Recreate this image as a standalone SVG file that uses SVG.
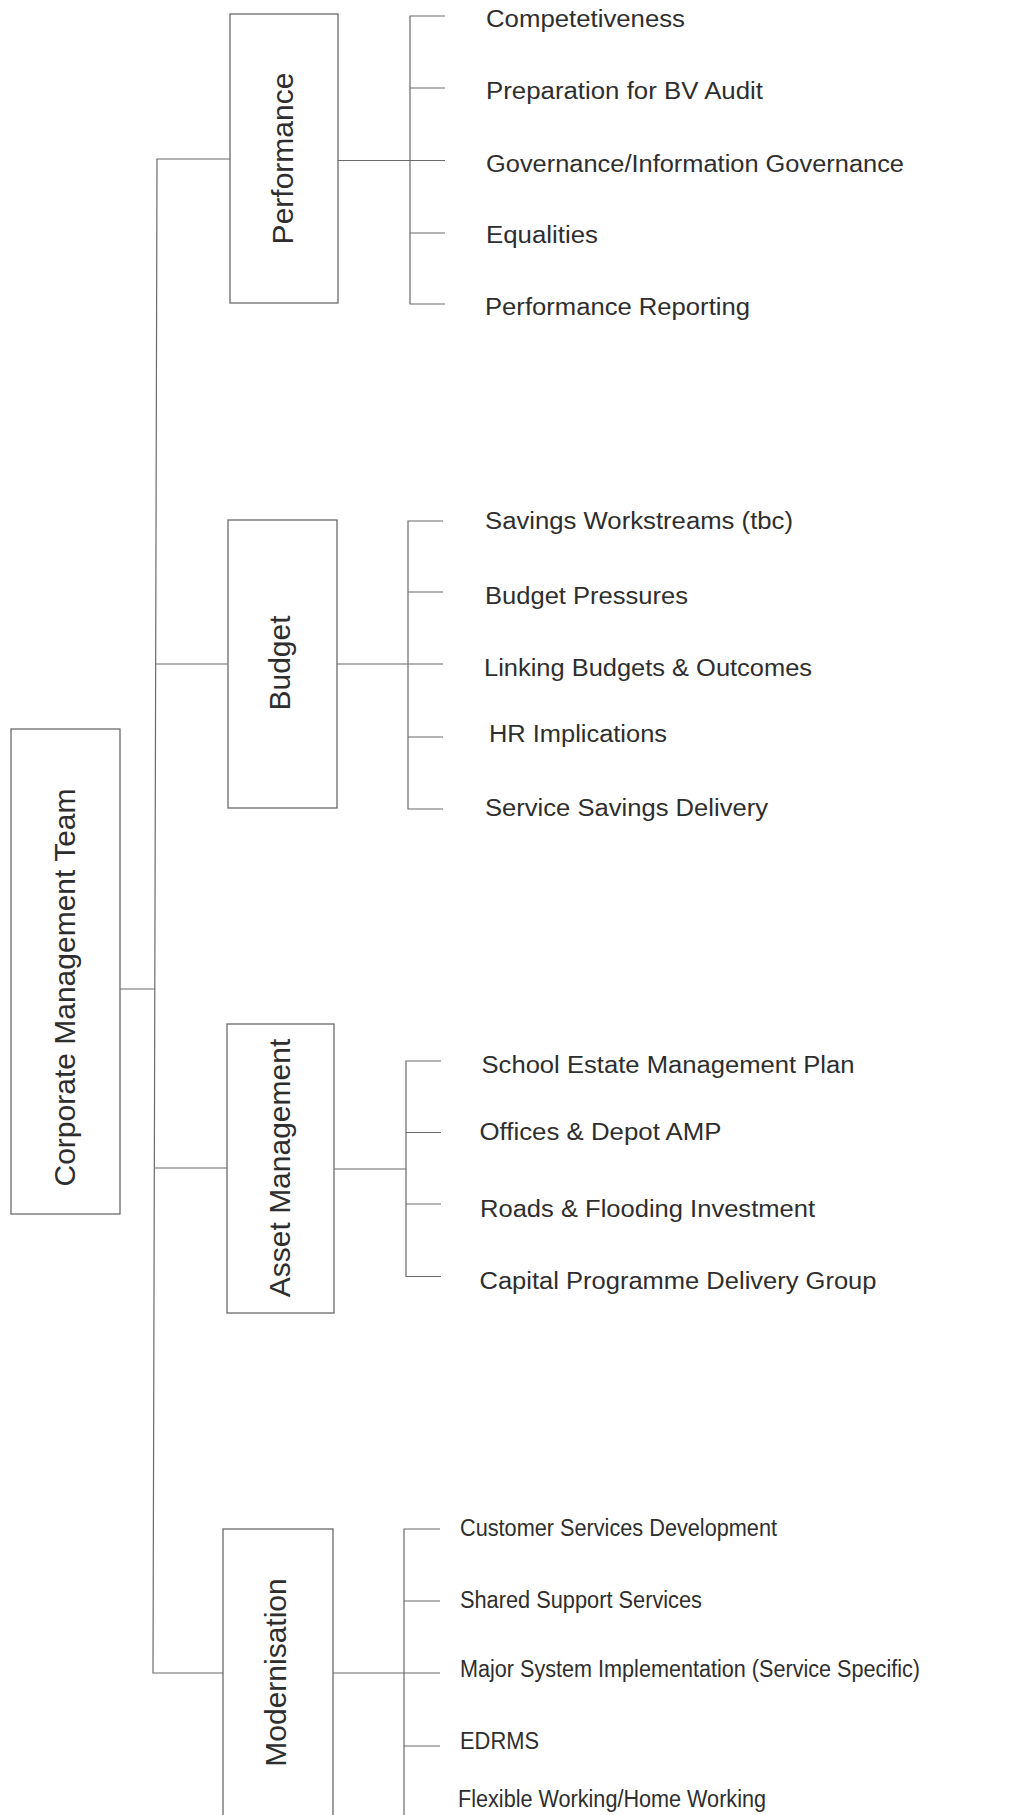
<svg xmlns="http://www.w3.org/2000/svg" width="1018" height="1815" viewBox="0 0 1018 1815">
  <style>
    .box { fill: #ffffff; stroke: #6a6a6a; stroke-width: 1.3; }
    .wire { fill: none; stroke: #6a6a6a; stroke-width: 1.2; }
    .head { font-family: "Liberation Sans", Arial, sans-serif; font-size: 30px; fill: #2e2e2e; text-anchor: middle; }
    .item { font-family: "Liberation Sans", Arial, sans-serif; font-size: 23px; fill: #2e2e2e; }
  </style>
  <rect width="1018" height="1815" fill="#ffffff"/>

  <!-- connectors: trunk, branches and item brackets -->
  <g id="connectors" class="wire">
    <!-- trunk from the top branch down to the bottom branch -->
    <polyline points="230,159 157,159 153,1673 223,1673"/>
    <line x1="120" y1="989" x2="155" y2="989"/>
    <line x1="156" y1="664" x2="228" y2="664"/>
    <line x1="155" y1="1168" x2="227" y2="1168"/>

    <!-- Performance bracket -->
    <line x1="338" y1="160.5" x2="445" y2="160.5"/>
    <polyline points="445,16 410,16 410,304 445,304"/>
    <line x1="410" y1="88" x2="445" y2="88"/>
    <line x1="410" y1="233" x2="445" y2="233"/>

    <!-- Budget bracket -->
    <line x1="337" y1="664" x2="443" y2="664"/>
    <polyline points="443,521 408,521 408,809 443,809"/>
    <line x1="408" y1="592" x2="443" y2="592"/>
    <line x1="408" y1="737" x2="443" y2="737"/>

    <!-- Asset Management bracket -->
    <line x1="334" y1="1169" x2="406" y2="1169"/>
    <polyline points="441,1061 406,1061 406,1276.5 441,1276.5"/>
    <line x1="406" y1="1132.5" x2="441" y2="1132.5"/>
    <line x1="406" y1="1204" x2="441" y2="1204"/>

    <!-- Modernisation bracket -->
    <line x1="333" y1="1673" x2="440" y2="1673"/>
    <polyline points="440,1529 404,1529 404,1820"/>
    <line x1="404" y1="1601" x2="440" y2="1601"/>
    <line x1="404" y1="1746" x2="440" y2="1746"/>
  </g>

  <!-- root node -->
  <g id="node-cmt">
    <rect class="box" x="11" y="729" width="109" height="485"/>
    <text class="head" transform="translate(74.5,987.5) rotate(-90)">Corporate Management Team</text>
  </g>

  <!-- Performance -->
  <g id="node-performance">
    <rect class="box" x="230" y="14" width="108" height="289"/>
    <text class="head" transform="translate(293,158.5) rotate(-90)">Performance</text>
  </g>
  <g id="items-performance" class="item">
    <text x="486" y="26.5" textLength="199" lengthAdjust="spacingAndGlyphs">Competetiveness</text>
    <text x="486" y="99" textLength="277" lengthAdjust="spacingAndGlyphs">Preparation for BV Audit</text>
    <text x="486" y="171.5" textLength="418" lengthAdjust="spacingAndGlyphs">Governance/Information Governance</text>
    <text x="486" y="243" textLength="112" lengthAdjust="spacingAndGlyphs">Equalities</text>
    <text x="485" y="315" textLength="265" lengthAdjust="spacingAndGlyphs">Performance Reporting</text>
  </g>

  <!-- Budget -->
  <g id="node-budget">
    <rect class="box" x="228" y="520" width="109" height="288"/>
    <text class="head" transform="translate(290,663) rotate(-90)">Budget</text>
  </g>
  <g id="items-budget" class="item">
    <text x="485" y="529" textLength="308" lengthAdjust="spacingAndGlyphs">Savings Workstreams (tbc)</text>
    <text x="485" y="603.5" textLength="203" lengthAdjust="spacingAndGlyphs">Budget Pressures</text>
    <text x="484" y="675.5" textLength="328" lengthAdjust="spacingAndGlyphs">Linking Budgets &amp; Outcomes</text>
    <text x="489" y="741.5" textLength="178" lengthAdjust="spacingAndGlyphs">HR Implications</text>
    <text x="485" y="816" textLength="283" lengthAdjust="spacingAndGlyphs">Service Savings Delivery</text>
  </g>

  <!-- Asset Management -->
  <g id="node-asset">
    <rect class="box" x="227" y="1024" width="107" height="289"/>
    <text class="head" transform="translate(290,1168) rotate(-90)">Asset Management</text>
  </g>
  <g id="items-asset" class="item">
    <text x="481.5" y="1072.5" textLength="373" lengthAdjust="spacingAndGlyphs">School Estate Management Plan</text>
    <text x="479.5" y="1140" textLength="242" lengthAdjust="spacingAndGlyphs">Offices &amp; Depot AMP</text>
    <text x="480" y="1216.5" textLength="335" lengthAdjust="spacingAndGlyphs">Roads &amp; Flooding Investment</text>
    <text x="479.5" y="1288.5" textLength="397" lengthAdjust="spacingAndGlyphs">Capital Programme Delivery Group</text>
  </g>

  <!-- Modernisation -->
  <g id="node-modernisation">
    <rect class="box" x="223" y="1529" width="110" height="300"/>
    <text class="head" transform="translate(286,1672.5) rotate(-90)">Modernisation</text>
  </g>
  <g id="items-modernisation" class="item">
    <text x="460" y="1535.5" textLength="317" lengthAdjust="spacingAndGlyphs">Customer Services Development</text>
    <text x="460" y="1607.5" textLength="242" lengthAdjust="spacingAndGlyphs">Shared Support Services</text>
    <text x="460" y="1676.5" textLength="460" lengthAdjust="spacingAndGlyphs">Major System Implementation (Service Specific)</text>
    <text x="460" y="1749" textLength="79" lengthAdjust="spacingAndGlyphs">EDRMS</text>
    <text x="458" y="1807" textLength="308" lengthAdjust="spacingAndGlyphs">Flexible Working/Home Working</text>
  </g>
</svg>
